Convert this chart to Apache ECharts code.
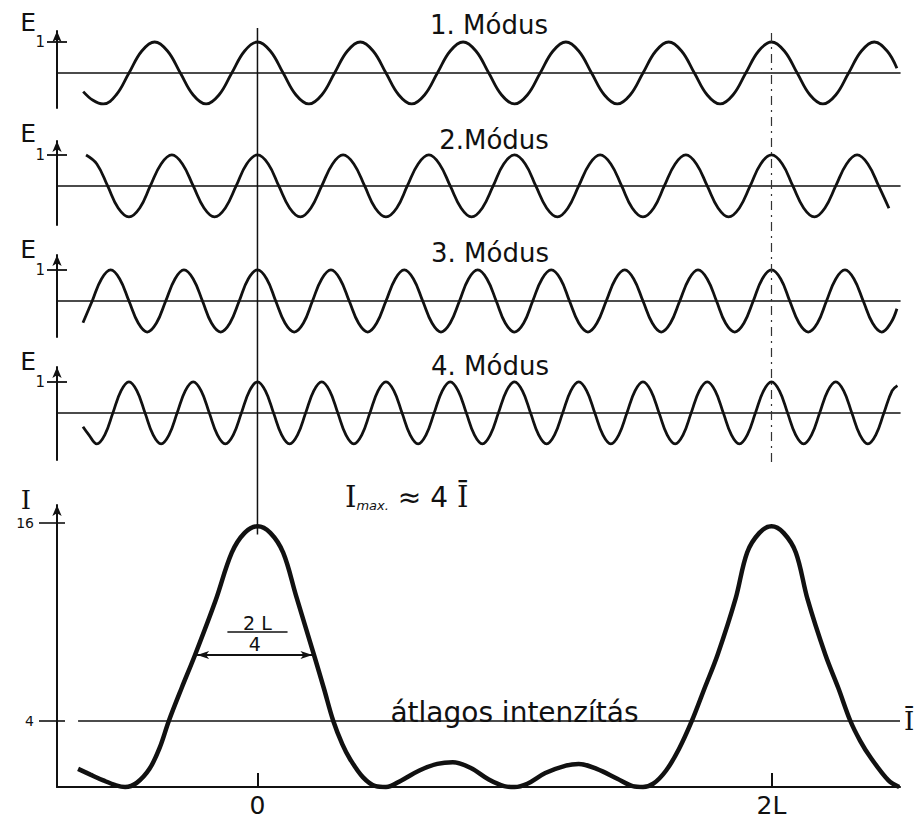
<!DOCTYPE html>
<html><head><meta charset="utf-8">
<script src="https://cdn.jsdelivr.net/npm/echarts@6/dist/echarts.min.js"></script>
<style>html,body{margin:0;padding:0;background:#fff}#c{width:919px;height:819px}</style>
</head><body><div id="c"></div>
<script>
// ---------------- DATA (x in units of L) ----------------
const modeTitles = ['1. Módus', '2.Módus', '3. Módus', '4. Módus'];
const mode1 = [[-0.678,-0.6],[-0.64,-0.88],[-0.6,-1],[-0.55,-0.71],[-0.5,0],[-0.45,0.71],[-0.4,1],[-0.35,0.71],[-0.3,0],[-0.25,-0.71],[-0.2,-1],[-0.15,-0.71],[-0.1,0],[-0.05,0.71],[0,1],[0.05,0.71],[0.1,0],[0.15,-0.71],[0.2,-1],[0.25,-0.71],[0.3,0],[0.35,0.71],[0.4,1],[0.45,0.71],[0.5,0],[0.55,-0.71],[0.6,-1],[0.65,-0.71],[0.7,0],[0.75,0.71],[0.8,1],[0.85,0.71],[0.9,0],[0.95,-0.71],[1.0,-1],[1.05,-0.71],[1.1,0],[1.15,0.71],[1.2,1],[1.25,0.71],[1.3,0],[1.35,-0.71],[1.4,-1],[1.45,-0.71],[1.5,0],[1.55,0.71],[1.6,1],[1.65,0.71],[1.7,0],[1.75,-0.71],[1.8,-1],[1.85,-0.71],[1.9,0],[1.95,0.71],[2.0,1],[2.05,0.71],[2.1,0],[2.15,-0.71],[2.2,-1],[2.25,-0.71],[2.3,0],[2.35,0.71],[2.4,1],[2.45,0.71],[2.488,0.15]];
const mode2 = [[-0.667,1],[-0.625,0.71],[-0.583,0],[-0.542,-0.71],[-0.5,-1],[-0.458,-0.71],[-0.417,0],[-0.375,0.71],[-0.333,1],[-0.292,0.71],[-0.25,0],[-0.208,-0.71],[-0.167,-1],[-0.125,-0.71],[-0.083,0],[-0.042,0.71],[0,1],[0.042,0.71],[0.083,0],[0.125,-0.71],[0.167,-1],[0.208,-0.71],[0.25,0],[0.292,0.71],[0.333,1],[0.375,0.71],[0.417,0],[0.458,-0.71],[0.5,-1],[0.542,-0.71],[0.583,0],[0.625,0.71],[0.667,1],[0.708,0.71],[0.75,0],[0.792,-0.71],[0.833,-1],[0.875,-0.71],[0.917,0],[0.958,0.71],[1.0,1],[1.042,0.71],[1.083,0],[1.125,-0.71],[1.167,-1],[1.208,-0.71],[1.25,0],[1.292,0.71],[1.333,1],[1.375,0.71],[1.417,0],[1.458,-0.71],[1.5,-1],[1.542,-0.71],[1.583,0],[1.625,0.71],[1.667,1],[1.708,0.71],[1.75,0],[1.792,-0.71],[1.833,-1],[1.875,-0.71],[1.917,0],[1.958,0.71],[2.0,1],[2.042,0.71],[2.083,0],[2.125,-0.71],[2.167,-1],[2.208,-0.71],[2.25,0],[2.292,0.71],[2.333,1],[2.375,0.71],[2.417,0],[2.457,-0.72]];
const mode3 = [[-0.679,-0.7],[-0.643,0],[-0.607,0.71],[-0.571,1],[-0.536,0.71],[-0.5,0],[-0.464,-0.71],[-0.429,-1],[-0.393,-0.71],[-0.357,0],[-0.321,0.71],[-0.286,1],[-0.25,0.71],[-0.214,0],[-0.179,-0.71],[-0.143,-1],[-0.107,-0.71],[-0.071,0],[-0.036,0.71],[0,1],[0.036,0.71],[0.071,0],[0.107,-0.71],[0.143,-1],[0.179,-0.71],[0.214,0],[0.25,0.71],[0.286,1],[0.321,0.71],[0.357,0],[0.393,-0.71],[0.429,-1],[0.464,-0.71],[0.5,0],[0.536,0.71],[0.571,1],[0.607,0.71],[0.643,0],[0.679,-0.71],[0.714,-1],[0.75,-0.71],[0.786,0],[0.821,0.71],[0.857,1],[0.893,0.71],[0.929,0],[0.964,-0.71],[1.0,-1],[1.036,-0.71],[1.071,0],[1.107,0.71],[1.143,1],[1.179,0.71],[1.214,0],[1.25,-0.71],[1.286,-1],[1.321,-0.71],[1.357,0],[1.393,0.71],[1.429,1],[1.464,0.71],[1.5,0],[1.536,-0.71],[1.571,-1],[1.607,-0.71],[1.643,0],[1.679,0.71],[1.714,1],[1.75,0.71],[1.786,0],[1.821,-0.71],[1.857,-1],[1.893,-0.71],[1.929,0],[1.964,0.71],[2.0,1],[2.036,0.71],[2.071,0],[2.107,-0.71],[2.143,-1],[2.179,-0.71],[2.214,0],[2.25,0.71],[2.286,1],[2.321,0.71],[2.357,0],[2.393,-0.71],[2.429,-1],[2.464,-0.71],[2.488,-0.25]];
const mode4 = [[-0.679,-0.45],[-0.656,-0.71],[-0.625,-1],[-0.594,-0.71],[-0.5625,0],[-0.531,0.71],[-0.5,1],[-0.469,0.71],[-0.4375,0],[-0.406,-0.71],[-0.375,-1],[-0.344,-0.71],[-0.3125,0],[-0.281,0.71],[-0.25,1],[-0.219,0.71],[-0.1875,0],[-0.156,-0.71],[-0.125,-1],[-0.094,-0.71],[-0.0625,0],[-0.031,0.71],[0,1],[0.031,0.71],[0.0625,0],[0.094,-0.71],[0.125,-1],[0.156,-0.71],[0.1875,0],[0.219,0.71],[0.25,1],[0.281,0.71],[0.3125,0],[0.344,-0.71],[0.375,-1],[0.406,-0.71],[0.4375,0],[0.469,0.71],[0.5,1],[0.531,0.71],[0.5625,0],[0.594,-0.71],[0.625,-1],[0.656,-0.71],[0.6875,0],[0.719,0.71],[0.75,1],[0.781,0.71],[0.8125,0],[0.844,-0.71],[0.875,-1],[0.906,-0.71],[0.9375,0],[0.969,0.71],[1.0,1],[1.031,0.71],[1.0625,0],[1.094,-0.71],[1.125,-1],[1.156,-0.71],[1.1875,0],[1.219,0.71],[1.25,1],[1.281,0.71],[1.3125,0],[1.344,-0.71],[1.375,-1],[1.406,-0.71],[1.4375,0],[1.469,0.71],[1.5,1],[1.531,0.71],[1.5625,0],[1.594,-0.71],[1.625,-1],[1.656,-0.71],[1.6875,0],[1.719,0.71],[1.75,1],[1.781,0.71],[1.8125,0],[1.844,-0.71],[1.875,-1],[1.906,-0.71],[1.9375,0],[1.969,0.71],[2.0,1],[2.031,0.71],[2.0625,0],[2.094,-0.71],[2.125,-1],[2.156,-0.71],[2.1875,0],[2.219,0.71],[2.25,1],[2.281,0.71],[2.3125,0],[2.344,-0.71],[2.375,-1],[2.406,-0.71],[2.4375,0],[2.469,0.71],[2.49,0.88]];
const intensity = [[-0.698,1.1],[-0.65,0.75],[-0.6,0.4],[-0.55,0.1],[-0.515,0],[-0.47,0.25],[-0.42,1.1],[-0.38,2.4],[-0.345,4.0],[-0.295,6.0],[-0.243,8.0],[-0.163,11.3],[-0.1,14.2],[-0.05,15.4],[0,15.8],[0.05,15.4],[0.1,14.2],[0.15,11.6],[0.22,8.0],[0.258,6.0],[0.295,4.0],[0.33,2.6],[0.36,1.7],[0.41,0.6],[0.46,0.05],[0.5,0],[0.56,0.4],[0.63,1.0],[0.7,1.4],[0.76,1.5],[0.83,1.15],[0.9,0.45],[0.96,0.05],[1.0,0],[1.05,0.2],[1.12,0.85],[1.2,1.3],[1.25,1.4],[1.32,1.1],[1.4,0.5],[1.46,0.05],[1.5,0],[1.54,0.2],[1.59,1.0],[1.64,2.3],[1.69,4.0],[1.74,6.0],[1.79,8.0],[1.86,11.4],[1.905,14.2],[1.953,15.4],[2.0,15.8],[2.047,15.4],[2.095,14.2],[2.14,11.4],[2.21,8.0],[2.26,6.0],[2.307,4.0],[2.345,2.8],[2.385,1.8],[2.455,0.4],[2.497,0]];
const eTickValues = [1];
const eTickLabels = ['1'];
const iTickValues = [4, 16];
const iTickLabels = ['4', '16'];
const xTickValues = [0, 2];
const xTickLabels = ['0', '2L'];
const avgIntensity = 4;          // Ī
const avgSpan = [-0.698, 2.5];
const halfMaxLevel = 8;          // FWHM arrow level
const fwhmSpan = [-0.235, 0.214];
const fracBar = [-0.117, 0.117, 9.4];
const zeroRefX = 0;              // x = 0
const periodRefX = 2;            // x = 2L

// ---------------- LAYOUT ----------------
const LEFT = 57, WIDTH = 843, XMIN = -0.78, XMAX = 2.5;
const panels = [
  {top: 31, height: 77, min: -1.13, max: 1.355, nameGap: 2},
  {top: 141, height: 84, min: -1.26, max: 1.45, nameGap: 8},
  {top: 255, height: 82, min: -1.16, max: 1.48, nameGap: 6},
  {top: 367, height: 93, min: -1.52, max: 1.48, nameGap: -3}
];
const modeData = [mode1, mode2, mode3, mode4];
const INK = '#111111';
const SANS = 'DejaVu Sans';
const SERIF = 'DejaVu Serif';

const grid = [], xAxis = [], yAxis = [], series = [];
panels.forEach((p, i) => {
  grid.push({left: LEFT, width: WIDTH, top: p.top, height: p.height});
  xAxis.push({type: 'value', gridIndex: i, min: XMIN, max: XMAX,
    axisLine: {show: true, onZero: true, lineStyle: {color: INK, width: 1.6}},
    axisTick: {show: false}, axisLabel: {show: false}, splitLine: {show: false}});
  yAxis.push({type: 'value', gridIndex: i, min: p.min, max: p.max, position: 'left', offset: 0,
    name: 'E', nameLocation: 'end', nameGap: p.nameGap,
    nameTextStyle: {fontFamily: SANS, fontSize: 25, color: INK, align: 'right', verticalAlign: 'middle', padding: [0, 21, 0, 0]},
    axisLine: {show: true, onZero: false, symbol: ['none', 'arrow'], symbolSize: [7, 11], lineStyle: {color: INK, width: 2}},
    axisTick: {show: true, customValues: eTickValues, length: 10, lineStyle: {color: INK, width: 1.8}},
    axisLabel: {show: true, customValues: eTickValues, formatter: v => eTickLabels[eTickValues.indexOf(v)], fontFamily: SANS, fontSize: 15, color: INK, margin: 12, padding: [10, 0, 0, 0]},
    splitLine: {show: false}});
  yAxis.push({type: 'value', gridIndex: i, min: p.min, max: p.max, position: 'left', offset: 0,
    axisLine: {show: false, onZero: false},
    axisTick: {show: true, inside: true, customValues: eTickValues, length: 10, lineStyle: {color: INK, width: 1.8}},
    axisLabel: {show: false}, splitLine: {show: false}});
  series.push({type: 'line', xAxisIndex: i, yAxisIndex: 2 * i, data: modeData[i], smooth: 0.4,
    showSymbol: false, silent: true, clip: false, lineStyle: {color: INK, width: 2.8}});
});

// intensity grid (index 4)
grid.push({left: LEFT, width: WIDTH, top: 505, height: 282});
xAxis.push({type: 'value', gridIndex: 4, min: XMIN, max: XMAX,
  axisLine: {show: true, onZero: false, lineStyle: {color: INK, width: 2.2}},
  axisTick: {show: true, inside: true, customValues: xTickValues, length: 14, lineStyle: {color: INK, width: 2}},
  axisLabel: {show: true, customValues: xTickValues, formatter: v => xTickLabels[xTickValues.indexOf(v)], fontFamily: SANS, fontSize: 25, color: INK, margin: 6},
  splitLine: {show: false}});
yAxis.push({type: 'value', gridIndex: 4, min: 0, max: 17.09, position: 'left', offset: 0,
  name: 'I', nameLocation: 'end', nameGap: 5,
  nameTextStyle: {fontFamily: SERIF, fontSize: 26, color: INK, align: 'right', verticalAlign: 'middle', padding: [0, 26, 0, 0]},
  axisLine: {show: true, onZero: false, symbol: ['none', 'arrow'], symbolSize: [7, 11], lineStyle: {color: INK, width: 2}},
  axisTick: {show: true, customValues: iTickValues, length: 18, lineStyle: {color: INK, width: 1.6}},
  axisLabel: {show: true, customValues: iTickValues, formatter: v => iTickLabels[iTickValues.indexOf(v)], fontFamily: SANS, fontSize: 14, color: INK, margin: 23},
  splitLine: {show: false}});
yAxis.push({type: 'value', gridIndex: 4, min: 0, max: 17.09, position: 'left', offset: 0,
  axisLine: {show: false, onZero: false},
  axisTick: {show: true, inside: true, customValues: iTickValues, length: 8, lineStyle: {color: INK, width: 1.6}},
  axisLabel: {show: false}, splitLine: {show: false}});
series.push({type: 'line', xAxisIndex: 4, yAxisIndex: 8, data: intensity, smooth: 0.35,
  showSymbol: false, silent: true, clip: false, color: INK, lineStyle: {color: INK, width: 4.5},
  markLine: {silent: true, symbol: ['none', 'none'], animation: false,
    lineStyle: {color: INK, type: 'solid'},
    label: {color: INK, textBorderWidth: 0},
    data: [
      [{coord: [avgSpan[0], avgIntensity], lineStyle: {color: INK, width: 1.6, type: 'solid'},
        label: {show: true, position: 'end', formatter: 'Ī', fontFamily: SERIF, fontSize: 26, color: INK, distance: 4}},
       {coord: [avgSpan[1], avgIntensity]}],
      [{coord: [fwhmSpan[0], halfMaxLevel], symbol: 'arrow', symbolSize: [6, 12], lineStyle: {color: INK, width: 2, type: 'solid'},
        label: {show: true, position: 'insideMiddleTop', formatter: '4', fontFamily: SANS, fontSize: 19, color: INK, distance: 1}},
       {coord: [fwhmSpan[1], halfMaxLevel], symbol: 'arrow', symbolSize: [6, 12]}],
      [{coord: [fracBar[0], fracBar[2]], lineStyle: {color: INK, width: 1.6, type: 'solid'},
        label: {show: true, position: 'insideMiddleTop', formatter: '2 L', fontFamily: SANS, fontSize: 19, color: INK, distance: -1}},
       {coord: [fracBar[1], fracBar[2]]}]
    ]},
  markPoint: {silent: true, symbol: 'circle', symbolSize: 0, animation: false,
    data: [{coord: [1.0, avgIntensity], label: {show: true, position: 'top', distance: -6, formatter: 'átlagos intenzítás', fontFamily: SANS, fontSize: 28, color: INK}}]}
});

// overlay grid (index 5) for the vertical reference lines; y in intensity units
grid.push({left: LEFT, width: WIDTH, top: 28, height: 759});
xAxis.push({type: 'value', gridIndex: 5, min: XMIN, max: XMAX, show: false});
yAxis.push({type: 'value', gridIndex: 5, min: 0, max: 46, show: false});
series.push({type: 'line', xAxisIndex: 5, yAxisIndex: 10, data: [[zeroRefX, 46], [zeroRefX, 15.3]],
  showSymbol: false, silent: true, lineStyle: {color: INK, width: 1.5}});
series.push({type: 'line', xAxisIndex: 5, yAxisIndex: 10, data: [[periodRefX, 45.7], [periodRefX, 19.7]],
  showSymbol: false, silent: true, lineStyle: {color: '#333', width: 1.2, type: [9, 5, 2, 5]}});

const titlePos = [[489, 25], [494, 140], [490, 253], [490, 366]];
const graphic = modeTitles.map((t, i) => ({type: 'text', x: titlePos[i][0], y: titlePos[i][1], silent: true,
  style: {text: t, fill: INK, font: '26px "DejaVu Sans"', textAlign: 'center', textVerticalAlign: 'middle'}}));
graphic.push({type: 'text', x: 345, y: 497, silent: true,
  style: {text: '{a|I}{b|max.}{c| ≈ 4 }{a|Ī}', fill: INK, textVerticalAlign: 'middle',
    rich: {a: {fontFamily: SERIF, fontSize: 29, lineHeight: 34, fill: INK},
           b: {fontFamily: SANS, fontSize: 13, fontStyle: 'italic', lineHeight: 34, padding: [16, 0, 0, 0], fill: INK},
           c: {fontFamily: SANS, fontSize: 28, lineHeight: 34, fill: INK}}}});

const chart = echarts.init(document.getElementById('c'), null, {renderer: 'svg'});
chart.setOption({backgroundColor: '#fff', animation: false, grid, xAxis, yAxis, series, graphic});
</script></body></html>
